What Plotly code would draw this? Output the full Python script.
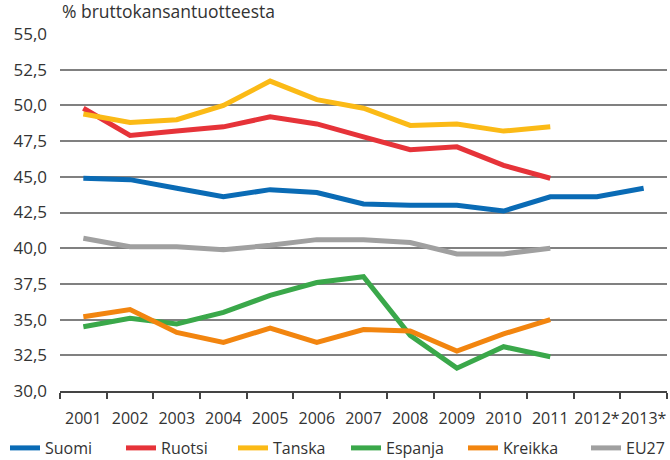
import plotly.graph_objects as go

years = ["2001", "2002", "2003", "2004", "2005", "2006", "2007", "2008", "2009", "2010", "2011", "2012*", "2013*"]

suomi = [44.9, 44.8, 44.2, 43.6, 44.1, 43.9, 43.1, 43.0, 43.0, 42.6, 43.6, 43.6, 44.2]
ruotsi = [49.8, 47.9, 48.2, 48.5, 49.2, 48.7, 47.8, 46.9, 47.1, 45.8, 44.9, None, None]
tanska = [49.4, 48.8, 49.0, 50.0, 51.7, 50.4, 49.8, 48.6, 48.7, 48.2, 48.5, None, None]
espanja = [34.5, 35.1, 34.7, 35.5, 36.7, 37.6, 38.0, 33.9, 31.6, 33.1, 32.4, None, None]
kreikka = [35.2, 35.7, 34.1, 33.4, 34.4, 33.4, 34.3, 34.2, 32.8, 34.0, 35.0, None, None]
eu27 = [40.7, 40.1, 40.1, 39.9, 40.2, 40.6, 40.6, 40.4, 39.6, 39.6, 40.0, None, None]

series = [
    ("Suomi", suomi, "#0a6bb5"),
    ("Ruotsi", ruotsi, "#e63339"),
    ("Tanska", tanska, "#fbba16"),
    ("Espanja", espanja, "#3aa84a"),
    ("Kreikka", kreikka, "#f2850f"),
    ("EU27", eu27, "#a0a0a0"),
]
# left edge (px) of each legend entry
legend_x_px = [5, 121, 233, 346, 463, 586]

fig = go.Figure()
layout_legends = {}
for i, ((name, vals, col), lx) in enumerate(zip(series, legend_x_px)):
    lid = "legend" if i == 0 else f"legend{i + 1}"
    fig.add_trace(go.Scatter(x=years, y=vals, name=name, mode="lines",
                             line=dict(color=col, width=5), connectgaps=False,
                             legend=lid))
    layout_legends[lid] = dict(
        orientation="h", xref="container", yref="container",
        x=lx / 670, y=1 - 448 / 460, xanchor="left", yanchor="middle",
        font=dict(size=16, color="#333333"), itemwidth=30,
        bgcolor="rgba(0,0,0,0)", borderwidth=0)

font = "Open Sans"
fig.update_layout(
    width=670, height=460,
    margin=dict(l=60, r=3, t=34, b=69),
    paper_bgcolor="white", plot_bgcolor="white",
    separators=", ",
    font=dict(family=font, size=16, color="#333333"),
    showlegend=True,
    annotations=[dict(text="% bruttokansantuotteesta", xref="paper", yref="paper",
                      x=0.0, y=1.025, xanchor="left", yanchor="bottom", showarrow=False,
                      font=dict(size=17.5, color="#333333"))],
    **layout_legends,
)
fig.update_xaxes(type="category", range=[-0.5, len(years) - 0.5],
                 showgrid=False, showline=True, linecolor="#444444",
                 linewidth=1.5, ticks="outside", tickson="boundaries", ticklen=6,
                 tickcolor="#444444", tickwidth=1.5, tickangle=0, tickfont=dict(size=16),
                 ticklabelstandoff=12)
fig.update_yaxes(range=[30, 55], dtick=2.5, tickformat=".1f", showgrid=True,
                 gridcolor="#808080", gridwidth=1.5, zeroline=False, showline=False,
                 ticks="", tickfont=dict(size=17), ticklabelstandoff=12)

fig.write_html("out.html", config={"displayModeBar": False},
               post_script="document.body.style.margin='0px';document.body.style.overflow='hidden';")
